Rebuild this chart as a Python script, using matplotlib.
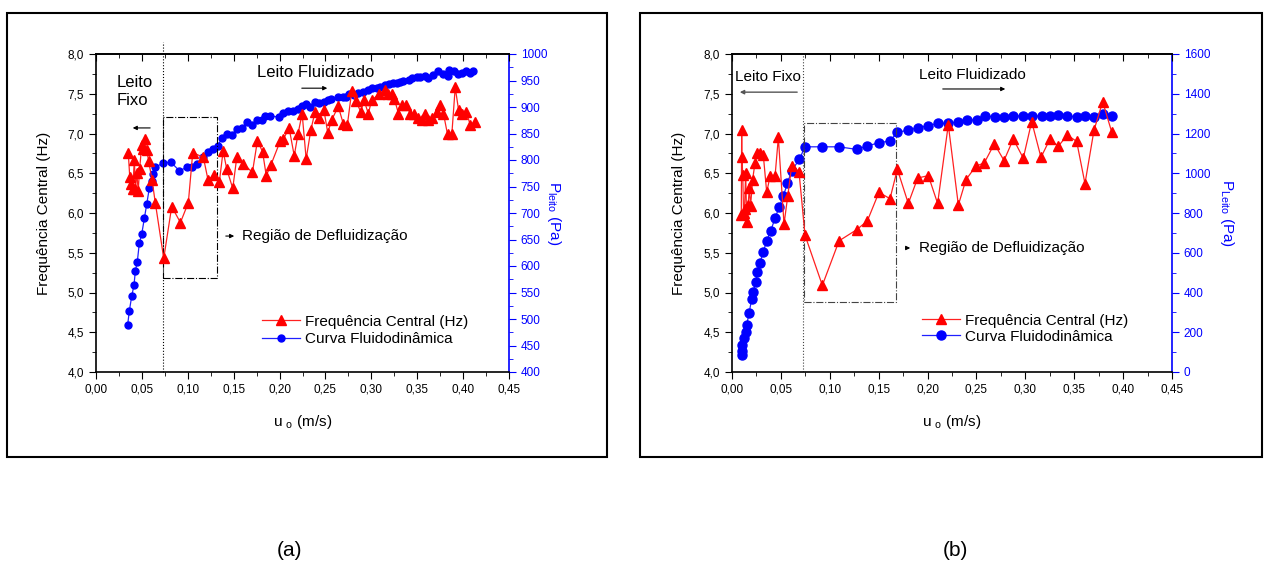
import numpy as np
import matplotlib
matplotlib.use('Agg')
import matplotlib.pyplot as plt
from matplotlib.patches import Rectangle
from matplotlib.ticker import MultipleLocator, FuncFormatter

plt.rcParams['font.family'] = ['Liberation Sans', 'DejaVu Sans']
plt.rcParams['mathtext.default'] = 'regular'

# ---- (a) frequencia central ----
a_u_freq = [0.0352, 0.0368, 0.0385, 0.0400, 0.0418, 0.0430, 0.0445, 0.0460, 0.0475, 0.0498,
            0.0515, 0.0534, 0.0553, 0.0574, 0.0610, 0.0646, 0.0738, 0.0825, 0.0920, 0.1006,
            0.1054, 0.1170, 0.1220, 0.1290, 0.1344, 0.1385, 0.1425, 0.1490, 0.1534, 0.1606,
            0.1704, 0.1759, 0.1815, 0.1855, 0.1904, 0.2006, 0.2042, 0.2104, 0.2160, 0.2202,
            0.2246, 0.2290, 0.2340, 0.2386, 0.2433, 0.2484, 0.2525, 0.2568, 0.2640, 0.2695,
            0.2739, 0.2786, 0.2833, 0.2885, 0.2920, 0.2967, 0.3004, 0.3088, 0.3145, 0.3187,
            0.3223, 0.3252, 0.3296, 0.3333, 0.3380, 0.3423, 0.3460, 0.3512, 0.3550, 0.3585,
            0.3621, 0.3658, 0.3712, 0.3750, 0.3786, 0.3830, 0.3877, 0.3914, 0.3950, 0.3987,
            0.4034, 0.4078, 0.4125]
a_freq = [6.75, 6.45, 6.36, 6.30, 6.67, 6.30, 6.50, 6.28, 6.55, 6.85,
          6.80, 6.93, 6.79, 6.65, 6.42, 6.13, 5.43, 6.08, 5.88, 6.13,
          6.76, 6.70, 6.42, 6.48, 6.39, 6.78, 6.55, 6.31, 6.70, 6.62,
          6.51, 6.91, 6.77, 6.47, 6.60, 6.90, 6.93, 7.07, 6.72, 7.00,
          7.25, 6.68, 7.04, 7.27, 7.19, 7.29, 7.01, 7.17, 7.34, 7.12,
          7.11, 7.53, 7.41, 7.27, 7.42, 7.25, 7.42, 7.50, 7.55, 7.50,
          7.50, 7.43, 7.25, 7.36, 7.36, 7.25, 7.25, 7.19, 7.17, 7.25,
          7.17, 7.19, 7.27, 7.36, 7.25, 6.99, 6.99, 7.58, 7.30, 7.25,
          7.27, 7.11, 7.14]

# ---- (a) curva fluidodinamica ----
a_u_p = [0.0345, 0.0363, 0.0389, 0.0414, 0.0429, 0.0450, 0.0472, 0.0498, 0.0527, 0.0553,
         0.0581, 0.0607, 0.0625, 0.0643, 0.0727, 0.0814, 0.0908, 0.0992, 0.1046, 0.1097,
         0.1162, 0.1220, 0.1278, 0.1330, 0.1370, 0.1425, 0.1480, 0.1534, 0.1588, 0.1650,
         0.1697, 0.1750, 0.1806, 0.1840, 0.1896, 0.1997, 0.2040, 0.2097, 0.2150, 0.2200,
         0.2240, 0.2290, 0.2330, 0.2386, 0.2433, 0.2484, 0.2525, 0.2560, 0.2640, 0.2690,
         0.2725, 0.2760, 0.2810, 0.2860, 0.2908, 0.2960, 0.3006, 0.3060, 0.3095, 0.3150,
         0.3197, 0.3240, 0.3280, 0.3314, 0.3350, 0.3405, 0.3440, 0.3495, 0.3530, 0.3580,
         0.3620, 0.3670, 0.3730, 0.3780, 0.3830, 0.3850, 0.3896, 0.3940, 0.3987, 0.4035,
         0.4080, 0.4113]
a_p = [489, 515, 543, 564, 591, 608, 643, 660, 690, 717,
       747, 760, 774, 786, 794, 796, 780, 786, 787, 792,
       806, 816, 820, 827, 841, 850, 848, 858, 860, 872,
       866, 875, 875, 883, 883, 881, 889, 893, 893, 896,
       901, 905, 900, 909, 907, 910, 913, 915, 918, 918,
       919, 925, 923, 926, 929, 932, 935, 936, 938, 941,
       943, 946, 946, 948, 949, 951, 954, 957, 957, 958,
       955, 960, 967, 962, 958, 970, 967, 962, 965, 967,
       965, 967]

# ---- (b) frequencia central ----
b_u_freq = [0.0095, 0.0099, 0.0101, 0.0110, 0.0118, 0.0128, 0.0140, 0.0150, 0.0165, 0.0177,
            0.0190, 0.0211, 0.0235, 0.0252, 0.0286, 0.0320, 0.0355, 0.0389, 0.0440, 0.0474,
            0.0532, 0.0570, 0.0610, 0.0685, 0.0747, 0.0924, 0.1095, 0.1275, 0.1384, 0.1503,
            0.1616, 0.1691, 0.1803, 0.1899, 0.2008, 0.2103, 0.2212, 0.2315, 0.2393, 0.2495,
            0.2580, 0.2683, 0.2782, 0.2877, 0.2979, 0.3065, 0.3160, 0.3252, 0.3337, 0.3430,
            0.3525, 0.3610, 0.3702, 0.3791, 0.3883]
b_freq = [5.98, 7.04, 6.71, 6.48, 6.00, 6.05, 6.50, 5.89, 6.10, 6.31,
          6.09, 6.42, 6.63, 6.75, 6.75, 6.73, 6.26, 6.46, 6.46, 6.95,
          5.86, 6.21, 6.59, 6.52, 5.72, 5.09, 5.65, 5.79, 5.90, 6.26,
          6.18, 6.55, 6.12, 6.44, 6.47, 6.12, 7.11, 6.10, 6.42, 6.59,
          6.63, 6.87, 6.66, 6.93, 6.69, 7.15, 6.70, 6.93, 6.84, 6.98,
          6.90, 6.37, 7.04, 7.40, 7.02]

# ---- (b) curva fluidodinamica ----
b_u_p = [0.0099, 0.0100, 0.0105, 0.0123, 0.0143, 0.0150, 0.0174, 0.0201, 0.0218, 0.0242,
         0.0259, 0.0286, 0.0320, 0.0355, 0.0396, 0.0440, 0.0481, 0.0525, 0.0566, 0.0610,
         0.0689, 0.0747, 0.0924, 0.1095, 0.1275, 0.1384, 0.1503, 0.1616, 0.1691, 0.1803,
         0.1899, 0.2008, 0.2103, 0.2212, 0.2315, 0.2400, 0.2503, 0.2587, 0.2690, 0.2782,
         0.2877, 0.2979, 0.3065, 0.3167, 0.3252, 0.3337, 0.3430, 0.3525, 0.3610, 0.3702,
         0.3791, 0.3883]
b_p = [85, 107, 136, 169, 200, 236, 295, 366, 404, 454,
       501, 550, 605, 659, 711, 773, 828, 885, 949, 1011,
       1071, 1133, 1133, 1133, 1120, 1138, 1153, 1163, 1206, 1217,
       1229, 1239, 1251, 1251, 1259, 1268, 1268, 1288, 1284, 1284,
       1288, 1288, 1288, 1288, 1288, 1293, 1288, 1284, 1288, 1284,
       1298, 1288]

comma = FuncFormatter(lambda v, p: ('%.2f' % v).replace('.', ','))
comma1 = FuncFormatter(lambda v, p: ('%.1f' % v).replace('.', ','))

fig = plt.figure(figsize=(12.68, 5.86), dpi=100)

# outer frames (pixel box -> figure fraction, y measured from the top)
for x0, x1 in [(7, 607), (640, 1262)]:
    fig.patches.append(Rectangle((x0/1268, (586-457)/586), (x1-x0)/1268, 444/586,
                                 transform=fig.transFigure, fill=False, lw=1.5, ec='k'))


def setup(ax, ax2, pmax, pmin, pmaj, pmin_minor):
    ax.set_xlim(0, 0.45)
    ax.set_ylim(4, 8)
    ax.xaxis.set_major_locator(MultipleLocator(0.05))
    ax.xaxis.set_minor_locator(MultipleLocator(0.025))
    ax.yaxis.set_major_locator(MultipleLocator(0.5))
    ax.yaxis.set_minor_locator(MultipleLocator(0.25))
    ax.xaxis.set_major_formatter(comma)
    ax.yaxis.set_major_formatter(comma1)
    ax.tick_params(axis='both', which='both', labelsize=8.5, direction='out')
    ax.tick_params(which='major', length=5)
    ax.tick_params(which='minor', length=3)
    # top ticks point inwards
    top = ax.secondary_xaxis('top')
    top.xaxis.set_major_locator(MultipleLocator(0.05))
    top.xaxis.set_minor_locator(MultipleLocator(0.025))
    top.tick_params(which='both', direction='in', labeltop=False)
    top.tick_params(which='major', length=5)
    top.tick_params(which='minor', length=3)
    top.spines['top'].set_linewidth(1.2)
    ax.spines['right'].set_visible(False)
    for s in ['left', 'bottom', 'top']:
        ax.spines[s].set_linewidth(1.2)
    ax2.set_ylim(pmin, pmax)
    ax2.yaxis.set_major_locator(MultipleLocator(pmaj))
    ax2.yaxis.set_minor_locator(MultipleLocator(pmin_minor))
    ax2.tick_params(axis='y', which='both', colors='blue', labelsize=8.5)
    ax2.tick_params(which='major', length=5)
    ax2.tick_params(which='minor', length=3)
    ax2.spines['right'].set_color('blue')
    ax2.spines['right'].set_linewidth(1.2)
    for s in ['left', 'top', 'bottom']:
        ax2.spines[s].set_visible(False)
    ax.set_ylabel('Frequência Central (Hz)', fontsize=11)
    ax.set_xlabel('u $_o$ (m/s)', fontsize=11)
    ax.xaxis.set_label_coords(0.5, -0.13)


# ================= (a) =================
ax = fig.add_axes([96/1268, 214/586, 413/1268, 318/586])
ax2 = ax.twinx()
setup(ax, ax2, 1000, 400, 50, 25)
ax.yaxis.set_label_coords(-0.11, 0.5)
ax2.set_ylabel('P$_{leito}$ (Pa)', rotation=270, color='blue', fontsize=11)
ax2.yaxis.set_label_coords(1.13, 0.5)

l1, = ax.plot(a_u_freq, a_freq, color='#ff2020', lw=0.9, marker='^', ms=6.5,
              mfc='red', mec='red', label='Frequência Central (Hz)', zorder=4)
l2, = ax2.plot(a_u_p, a_p, color='#2020ff', lw=0.9, marker='o', ms=5,
               mfc='blue', mec='blue', label='Curva Fluidodinâmica', zorder=3)
ax.set_zorder(ax2.get_zorder() + 1)
ax.patch.set_visible(False)

ax.plot([0.073, 0.073], [4, 8.15], color='k', ls=':', lw=0.8, clip_on=False)
ax.add_patch(Rectangle((0.073, 5.18), 0.0585, 2.03, fill=False, ls='-.', lw=0.8, ec='k'))
ax.text(0.0225, 7.53, 'Leito\nFixo', fontsize=12, ha='left', va='center', linespacing=1.25)
ax.annotate('', xy=(0.037, 7.07), xytext=(0.062, 7.07),
            arrowprops=dict(arrowstyle='-|>', color='k', lw=0.8, mutation_scale=6))
ax.text(0.1754, 7.77, 'Leito Fluidizado', fontsize=12, ha='left', va='center')
ax.annotate('', xy=(0.255, 7.57), xytext=(0.2212, 7.57),
            arrowprops=dict(arrowstyle='-|>', color='k', lw=0.8, mutation_scale=6))
ax.annotate('', xy=(0.1536, 5.71), xytext=(0.1384, 5.71),
            arrowprops=dict(arrowstyle='-|>', color='k', lw=0.8, mutation_scale=6))
ax.text(0.159, 5.71, 'Região de Defluidização', fontsize=11, ha='left', va='center')
ax.legend([l1, l2], [l1.get_label(), l2.get_label()], loc='upper left',
          bbox_to_anchor=(0.402, 0.18), frameon=False, fontsize=11, handlelength=2.5,
          handletextpad=0.3, labelspacing=0.22, borderpad=0, borderaxespad=0)

# ================= (b) =================
bx = fig.add_axes([732/1268, 214/586, 440/1268, 318/586])
bx2 = bx.twinx()
setup(bx, bx2, 1600, 0, 200, 100)
bx.yaxis.set_label_coords(-0.105, 0.5)
bx2.set_ylabel('P$_{Leito}$ (Pa)', rotation=270, color='blue', fontsize=11)
bx2.yaxis.set_label_coords(1.145, 0.5)

m1, = bx.plot(b_u_freq, b_freq, color='#ff2020', lw=0.9, marker='^', ms=7,
              mfc='red', mec='red', label='Frequência Central (Hz)', zorder=4)
m2, = bx2.plot(b_u_p, b_p, color='#2020ff', lw=0.9, marker='o', ms=6.5,
               mfc='blue', mec='blue', label='Curva Fluidodinâmica', zorder=3)
bx.set_zorder(bx2.get_zorder() + 1)
bx.patch.set_visible(False)

bx.plot([0.0729, 0.0729], [4, 8], color='#444444', ls=':', lw=0.8)
bx.add_patch(Rectangle((0.0736, 4.88), 0.0941, 2.25, fill=False, ls='-.', lw=0.8, ec='#444444'))
bx.text(0.0031, 7.71, 'Leito Fixo', fontsize=11, ha='left', va='center')
bx.annotate('', xy=(0.0051, 7.52), xytext=(0.0695, 7.52),
            arrowprops=dict(arrowstyle='-|>', color='#555555', lw=1.0, mutation_scale=6))
bx.text(0.191, 7.74, 'Leito Fluidizado', fontsize=11, ha='left', va='center')
bx.annotate('', xy=(0.2823, 7.56), xytext=(0.2127, 7.56),
            arrowprops=dict(arrowstyle='-|>', color='k', lw=0.8, mutation_scale=6))
bx.annotate('', xy=(0.1851, 5.56), xytext=(0.1749, 5.56),
            arrowprops=dict(arrowstyle='-|>', color='k', lw=0.8, mutation_scale=6))
bx.text(0.1912, 5.56, 'Região de Defluidização', fontsize=11, ha='left', va='center')
bx.legend([m1, m2], [m1.get_label(), m2.get_label()], loc='upper left',
          bbox_to_anchor=(0.432, 0.183), frameon=False, fontsize=11, handlelength=2.5,
          handletextpad=0.3, labelspacing=0.12, borderpad=0, borderaxespad=0)

fig.text(290/1268, 1 - 550/586, '(a)', fontsize=15, ha='center', va='center')
fig.text(955/1268, 1 - 550/586, '(b)', fontsize=15, ha='center', va='center')

plt.savefig('out.png', dpi=100)
